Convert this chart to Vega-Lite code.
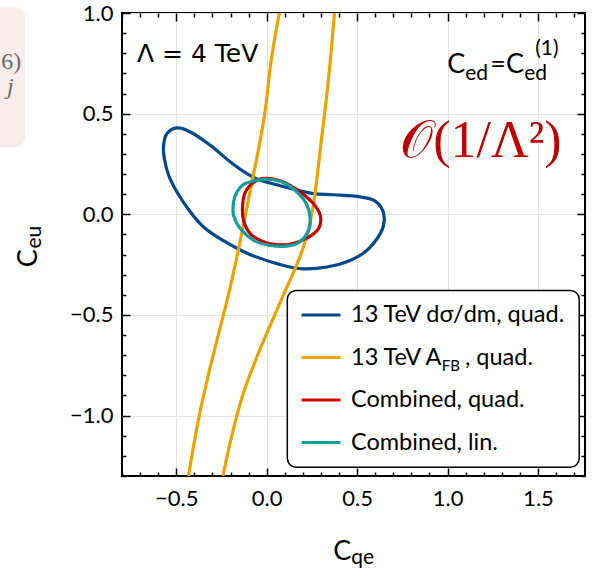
{
  "$schema": "https://vega.github.io/schema/vega-lite/v6.json",
  "width": 463,
  "height": 463,
  "autosize": {"type": "none"},
  "padding": {"left": 122, "top": 13, "right": 13, "bottom": 95},
  "background": "white",
  "config": {
    "view": {"stroke": "black", "strokeWidth": 2},
    "axis": {"domain": false, "labelFont": "Lato", "labelFontSize": 22, "labelColor": "black", "tickColor": "black", "tickWidth": 1.5, "gridColor": "#e3e3e3", "gridWidth": 1, "labelOverlap": false, "labelFlush": false},
    "legend": {
      "orient": "none", "legendX": 165, "legendY": 273, "title": null,
      "symbolType": "stroke", "symbolStrokeWidth": 3, "symbolSize": 1521,
      "labelFont": "Lato", "labelFontSize": 23.5, "labelColor": "black", "labelLimit": 400,
      "padding": 8, "symbolOffset": 5, "labelOffset": 9, "rowPadding": 9.5
    },
    "text": {"font": "Lato", "color": "black"}
  },
  "datasets": {
    "contours": [
      {"series": "13 TeV dσ/dm, quad.", "part": "a", "i": 0, "x": -0.496, "y": 0.429},
      {"series": "13 TeV dσ/dm, quad.", "part": "a", "i": 1, "x": -0.422, "y": 0.409},
      {"series": "13 TeV dσ/dm, quad.", "part": "a", "i": 2, "x": -0.312, "y": 0.343},
      {"series": "13 TeV dσ/dm, quad.", "part": "a", "i": 3, "x": -0.201, "y": 0.260},
      {"series": "13 TeV dσ/dm, quad.", "part": "a", "i": 4, "x": -0.109, "y": 0.202},
      {"series": "13 TeV dσ/dm, quad.", "part": "a", "i": 5, "x": -0.035, "y": 0.169},
      {"series": "13 TeV dσ/dm, quad.", "part": "a", "i": 6, "x": 0.075, "y": 0.142},
      {"series": "13 TeV dσ/dm, quad.", "part": "a", "i": 7, "x": 0.186, "y": 0.117},
      {"series": "13 TeV dσ/dm, quad.", "part": "a", "i": 8, "x": 0.259, "y": 0.103},
      {"series": "13 TeV dσ/dm, quad.", "part": "a", "i": 9, "x": 0.370, "y": 0.097},
      {"series": "13 TeV dσ/dm, quad.", "part": "a", "i": 10, "x": 0.516, "y": 0.087},
      {"series": "13 TeV dσ/dm, quad.", "part": "a", "i": 11, "x": 0.591, "y": 0.070},
      {"series": "13 TeV dσ/dm, quad.", "part": "a", "i": 12, "x": 0.637, "y": 0.028},
      {"series": "13 TeV dσ/dm, quad.", "part": "a", "i": 13, "x": 0.650, "y": -0.030},
      {"series": "13 TeV dσ/dm, quad.", "part": "a", "i": 14, "x": 0.628, "y": -0.096},
      {"series": "13 TeV dσ/dm, quad.", "part": "a", "i": 15, "x": 0.554, "y": -0.179},
      {"series": "13 TeV dσ/dm, quad.", "part": "a", "i": 16, "x": 0.462, "y": -0.229},
      {"series": "13 TeV dσ/dm, quad.", "part": "a", "i": 17, "x": 0.333, "y": -0.262},
      {"series": "13 TeV dσ/dm, quad.", "part": "a", "i": 18, "x": 0.186, "y": -0.270},
      {"series": "13 TeV dσ/dm, quad.", "part": "a", "i": 19, "x": 0.057, "y": -0.245},
      {"series": "13 TeV dσ/dm, quad.", "part": "a", "i": 20, "x": -0.102, "y": -0.196},
      {"series": "13 TeV dσ/dm, quad.", "part": "a", "i": 21, "x": -0.256, "y": -0.122},
      {"series": "13 TeV dσ/dm, quad.", "part": "a", "i": 22, "x": -0.349, "y": -0.063},
      {"series": "13 TeV dσ/dm, quad.", "part": "a", "i": 23, "x": -0.422, "y": 0.011},
      {"series": "13 TeV dσ/dm, quad.", "part": "a", "i": 24, "x": -0.496, "y": 0.111},
      {"series": "13 TeV dσ/dm, quad.", "part": "a", "i": 25, "x": -0.542, "y": 0.194},
      {"series": "13 TeV dσ/dm, quad.", "part": "a", "i": 26, "x": -0.566, "y": 0.277},
      {"series": "13 TeV dσ/dm, quad.", "part": "a", "i": 27, "x": -0.570, "y": 0.343},
      {"series": "13 TeV dσ/dm, quad.", "part": "a", "i": 28, "x": -0.551, "y": 0.401},

      {"series": "13 TeV AFB, quad.", "part": "left", "i": 0, "x": 0.070, "y": 1.0},
      {"series": "13 TeV AFB, quad.", "part": "left", "i": 1, "x": 0.025, "y": 0.765},
      {"series": "13 TeV AFB, quad.", "part": "left", "i": 2, "x": -0.008, "y": 0.517},
      {"series": "13 TeV AFB, quad.", "part": "left", "i": 3, "x": -0.041, "y": 0.343},
      {"series": "13 TeV AFB, quad.", "part": "left", "i": 4, "x": -0.074, "y": 0.194},
      {"series": "13 TeV AFB, quad.", "part": "left", "i": 5, "x": -0.118, "y": -0.005},
      {"series": "13 TeV AFB, quad.", "part": "left", "i": 6, "x": -0.163, "y": -0.204},
      {"series": "13 TeV AFB, quad.", "part": "left", "i": 7, "x": -0.212, "y": -0.402},
      {"series": "13 TeV AFB, quad.", "part": "left", "i": 8, "x": -0.268, "y": -0.601},
      {"series": "13 TeV AFB, quad.", "part": "left", "i": 9, "x": -0.323, "y": -0.800},
      {"series": "13 TeV AFB, quad.", "part": "left", "i": 10, "x": -0.378, "y": -1.023},
      {"series": "13 TeV AFB, quad.", "part": "left", "i": 11, "x": -0.433, "y": -1.3},
      {"series": "13 TeV AFB, quad.", "part": "right", "i": 0, "x": 0.375, "y": 1.0},
      {"series": "13 TeV AFB, quad.", "part": "right", "i": 1, "x": 0.352, "y": 0.765},
      {"series": "13 TeV AFB, quad.", "part": "right", "i": 2, "x": 0.329, "y": 0.566},
      {"series": "13 TeV AFB, quad.", "part": "right", "i": 3, "x": 0.302, "y": 0.368},
      {"series": "13 TeV AFB, quad.", "part": "right", "i": 4, "x": 0.280, "y": 0.194},
      {"series": "13 TeV AFB, quad.", "part": "right", "i": 5, "x": 0.258, "y": 0.045},
      {"series": "13 TeV AFB, quad.", "part": "right", "i": 6, "x": 0.230, "y": -0.079},
      {"series": "13 TeV AFB, quad.", "part": "right", "i": 7, "x": 0.197, "y": -0.179},
      {"series": "13 TeV AFB, quad.", "part": "right", "i": 8, "x": 0.153, "y": -0.278},
      {"series": "13 TeV AFB, quad.", "part": "right", "i": 9, "x": 0.092, "y": -0.402},
      {"series": "13 TeV AFB, quad.", "part": "right", "i": 10, "x": 0.020, "y": -0.551},
      {"series": "13 TeV AFB, quad.", "part": "right", "i": 11, "x": -0.057, "y": -0.715},
      {"series": "13 TeV AFB, quad.", "part": "right", "i": 12, "x": -0.129, "y": -0.889},
      {"series": "13 TeV AFB, quad.", "part": "right", "i": 13, "x": -0.190, "y": -1.088},
      {"series": "13 TeV AFB, quad.", "part": "right", "i": 14, "x": -0.242, "y": -1.3},

      {"series": "Combined, quad.", "part": "a", "i": 0, "x": -0.026, "y": 0.177},
      {"series": "Combined, quad.", "part": "a", "i": 1, "x": 0.066, "y": 0.169},
      {"series": "Combined, quad.", "part": "a", "i": 2, "x": 0.158, "y": 0.128},
      {"series": "Combined, quad.", "part": "a", "i": 3, "x": 0.250, "y": 0.061},
      {"series": "Combined, quad.", "part": "a", "i": 4, "x": 0.296, "y": -0.005},
      {"series": "Combined, quad.", "part": "a", "i": 5, "x": 0.287, "y": -0.071},
      {"series": "Combined, quad.", "part": "a", "i": 6, "x": 0.232, "y": -0.113},
      {"series": "Combined, quad.", "part": "a", "i": 7, "x": 0.140, "y": -0.146},
      {"series": "Combined, quad.", "part": "a", "i": 8, "x": 0.048, "y": -0.151},
      {"series": "Combined, quad.", "part": "a", "i": 9, "x": -0.026, "y": -0.134},
      {"series": "Combined, quad.", "part": "a", "i": 10, "x": -0.091, "y": -0.096},
      {"series": "Combined, quad.", "part": "a", "i": 11, "x": -0.128, "y": -0.030},
      {"series": "Combined, quad.", "part": "a", "i": 12, "x": -0.133, "y": 0.045},
      {"series": "Combined, quad.", "part": "a", "i": 13, "x": -0.118, "y": 0.111},
      {"series": "Combined, quad.", "part": "a", "i": 14, "x": -0.081, "y": 0.153},

      {"series": "Combined, lin.", "part": "a", "i": 0, "x": -0.118, "y": 0.153},
      {"series": "Combined, lin.", "part": "a", "i": 1, "x": -0.008, "y": 0.174},
      {"series": "Combined, lin.", "part": "a", "i": 2, "x": 0.085, "y": 0.160},
      {"series": "Combined, lin.", "part": "a", "i": 3, "x": 0.167, "y": 0.111},
      {"series": "Combined, lin.", "part": "a", "i": 4, "x": 0.223, "y": 0.045},
      {"series": "Combined, lin.", "part": "a", "i": 5, "x": 0.241, "y": -0.038},
      {"series": "Combined, lin.", "part": "a", "i": 6, "x": 0.223, "y": -0.096},
      {"series": "Combined, lin.", "part": "a", "i": 7, "x": 0.167, "y": -0.146},
      {"series": "Combined, lin.", "part": "a", "i": 8, "x": 0.093, "y": -0.159},
      {"series": "Combined, lin.", "part": "a", "i": 9, "x": 0.011, "y": -0.154},
      {"series": "Combined, lin.", "part": "a", "i": 10, "x": -0.072, "y": -0.129},
      {"series": "Combined, lin.", "part": "a", "i": 11, "x": -0.146, "y": -0.071},
      {"series": "Combined, lin.", "part": "a", "i": 12, "x": -0.183, "y": -0.005},
      {"series": "Combined, lin.", "part": "a", "i": 13, "x": -0.183, "y": 0.061},
      {"series": "Combined, lin.", "part": "a", "i": 14, "x": -0.164, "y": 0.111}
    ],
    "anchor": [{"x": 0, "y": 0}]
  },
  "layer": [
    {
      "encoding": {
        "x": {"field": "x", "type": "quantitative", "title": null, "scale": {"domain": [-0.8, 1.76], "nice": false, "zero": false}},
        "y": {"field": "y", "type": "quantitative", "title": null, "scale": {"domain": [-1.3, 1.0], "nice": false, "zero": false}}
      },
      "layer": [
        {
          "data": {"name": "contours"},
          "transform": [{"filter": "datum.series === '13 TeV dσ/dm, quad.'"}],
          "mark": {"type": "line", "interpolate": "cardinal-closed", "strokeWidth": 3.2, "clip": true},
          "encoding": {
            "x": {"field": "x", "type": "quantitative", "title": null,
              "axis": {"orient": "bottom", "values": [-0.5, 0, 0.5, 1.0, 1.5], "format": ".1f", "tickSize": -8, "grid": true, "labelPadding": 20}},
            "y": {"field": "y", "type": "quantitative", "title": null,
              "axis": {"orient": "left", "values": [-1.0, -0.5, 0, 0.5, 1.0], "format": ".1f", "tickSize": -8, "grid": true, "labelPadding": 17}},
            "order": {"field": "i", "type": "quantitative"},
            "detail": {"field": "part", "type": "nominal"},
            "color": {"field": "series", "type": "nominal",
              "scale": {"domain": ["13 TeV dσ/dm, quad.", "13 TeV AFB, quad.", "Combined, quad.", "Combined, lin."], "range": ["#00478c", "#eba300", "#c80000", "#139e9c"]},
              "legend": {"labelExpr": "datum.label === '13 TeV AFB, quad.' ? '13 TeV A\u2002\u2002, quad.' : datum.label"}}
          }
        },
        {
          "data": {"name": "contours"},
          "transform": [{"filter": "datum.series === '13 TeV AFB, quad.'"}],
          "mark": {"type": "line", "interpolate": "cardinal", "strokeWidth": 3.2, "clip": true},
          "encoding": {
            "order": {"field": "i", "type": "quantitative"},
            "detail": {"field": "part", "type": "nominal"},
            "color": {"field": "series", "type": "nominal"}
          }
        },
        {
          "data": {"name": "contours"},
          "transform": [{"filter": "datum.series === 'Combined, quad.'"}],
          "mark": {"type": "line", "interpolate": "cardinal-closed", "strokeWidth": 3.2, "clip": true},
          "encoding": {
            "order": {"field": "i", "type": "quantitative"},
            "detail": {"field": "part", "type": "nominal"},
            "color": {"field": "series", "type": "nominal"}
          }
        },
        {
          "data": {"name": "contours"},
          "transform": [{"filter": "datum.series === 'Combined, lin.'"}],
          "mark": {"type": "line", "interpolate": "cardinal-closed", "strokeWidth": 3.2, "clip": true},
          "encoding": {
            "order": {"field": "i", "type": "quantitative"},
            "detail": {"field": "part", "type": "nominal"},
            "color": {"field": "series", "type": "nominal"}
          }
        },
        {
          "data": {"values": [{"x": 0.114, "x2": 1.728, "y": -0.378, "y2": -1.257}]},
          "mark": {"type": "rect", "fill": "white", "stroke": "black", "strokeWidth": 1.5, "cornerRadius": 9, "clip": false},
          "encoding": {"x2": {"field": "x2"}, "y2": {"field": "y2"}}
        },
        {
          "data": {"values": [{"x": -1.6, "x2": -1.337, "y": 1.028, "y2": 0.333}]},
          "mark": {"type": "rect", "fill": "#f8eded", "cornerRadius": 10, "clip": false},
          "encoding": {"x2": {"field": "x2"}, "y2": {"field": "y2"}}
        },
        {
          "data": {"values": [{"label": "6)", "x": -1.357, "y": 0.720}]},
          "mark": {"type": "text", "font": "Liberation Serif", "fontSize": 24, "align": "right", "baseline": "alphabetic", "color": "#6b6b6b"},
          "encoding": {"text": {"field": "label"}}
        },
        {
          "data": {"values": [{"label": "j", "x": -1.417, "y": 0.596}]},
          "mark": {"type": "text", "font": "Liberation Serif", "fontSize": 24, "fontStyle": "italic", "align": "center", "baseline": "alphabetic", "color": "#6b6b6b"},
          "encoding": {"text": {"field": "label"}}
        },
        {
          "data": {"values": [{"label": "Λ = 4 TeV", "x": -0.717, "y": 0.755}]},
          "mark": {"type": "text", "font": "DejaVu Sans", "fontSize": 25, "align": "left", "baseline": "alphabetic"},
          "encoding": {"text": {"field": "label"}}
        },
        {
          "data": {"values": [{"label": "C", "x": 0.998, "y": 0.700}, {"label": "=C", "x": 1.236, "y": 0.700}, {"label": "C", "x": 0.368, "y": -1.719}]},
          "mark": {"type": "text", "fontSize": 27, "align": "left", "baseline": "alphabetic"},
          "encoding": {"text": {"field": "label"}}
        },
        {
          "data": {"values": [{"label": "ed", "x": 1.098, "y": 0.666}, {"label": "ed", "x": 1.424, "y": 0.666}, {"label": "(1)", "x": 1.485, "y": 0.790}, {"label": "qe", "x": 0.468, "y": -1.739}]},
          "mark": {"type": "text", "fontSize": 21, "align": "left", "baseline": "alphabetic"},
          "encoding": {"text": {"field": "label"}}
        },
        {
          "data": {"values": [{"label": "C", "x": -1.268, "y": -0.263}]},
          "mark": {"type": "text", "fontSize": 27, "angle": 270, "align": "left", "baseline": "alphabetic"},
          "encoding": {"text": {"field": "label"}}
        },
        {
          "data": {"values": [{"label": "eu", "x": -1.246, "y": -0.170}]},
          "mark": {"type": "text", "fontSize": 21, "angle": 270, "align": "left", "baseline": "alphabetic"},
          "encoding": {"text": {"field": "label"}}
        },
        {
          "data": {"values": [{"label": "𝒪(1/Λ²)", "x": 0.738, "y": 0.283}]},
          "mark": {"type": "text", "font": "Liberation Serif", "fontSize": 52, "align": "left", "baseline": "alphabetic", "color": "#c00000"},
          "encoding": {"text": {"field": "label"}}
        },
        {
          "data": {"values": [{"label": "FB", "x": 0.968, "y": -0.778}]},
          "mark": {"type": "text", "fontSize": 15, "align": "left", "baseline": "alphabetic"},
          "encoding": {"text": {"field": "label"}}
        }
      ]
    },
    {
      "data": {"name": "anchor"},
      "mark": {"type": "point", "opacity": 0},
      "encoding": {
        "x": {"field": "x", "type": "quantitative", "title": null, "scale": {"domain": [-0.8, 1.76], "nice": false, "zero": false},
          "axis": {"orient": "bottom", "labels": false, "grid": false, "tickSize": -4,
            "values": [-0.8,-0.7,-0.6,-0.4,-0.3,-0.2,-0.1,0.1,0.2,0.3,0.4,0.6,0.7,0.8,0.9,1.1,1.2,1.3,1.4,1.6,1.7]}},
        "y": {"field": "y", "type": "quantitative", "title": null, "scale": {"domain": [-1.3, 1.0], "nice": false, "zero": false},
          "axis": {"orient": "left", "labels": false, "grid": false, "tickSize": -4,
            "values": [-1.3,-1.2,-1.1,-0.9,-0.8,-0.7,-0.6,-0.4,-0.3,-0.2,-0.1,0.1,0.2,0.3,0.4,0.6,0.7,0.8,0.9]}}
      }
    },
    {
      "data": {"name": "anchor"},
      "mark": {"type": "point", "opacity": 0},
      "encoding": {
        "x": {"field": "x", "type": "quantitative", "title": null, "scale": {"domain": [-0.8, 1.76], "nice": false, "zero": false},
          "axis": {"orient": "top", "labels": false, "grid": false, "tickSize": -8, "values": [-0.5, 0, 0.5, 1.0, 1.5]}},
        "y": {"field": "y", "type": "quantitative", "title": null, "scale": {"domain": [-1.3, 1.0], "nice": false, "zero": false},
          "axis": {"orient": "right", "labels": false, "grid": false, "tickSize": -8, "values": [-1.0, -0.5, 0, 0.5, 1.0]}}
      }
    },
    {
      "data": {"name": "anchor"},
      "mark": {"type": "point", "opacity": 0},
      "encoding": {
        "x": {"field": "x", "type": "quantitative", "title": null, "scale": {"domain": [-0.8, 1.76], "nice": false, "zero": false},
          "axis": {"orient": "top", "labels": false, "grid": false, "tickSize": -4,
            "values": [-0.8,-0.7,-0.6,-0.4,-0.3,-0.2,-0.1,0.1,0.2,0.3,0.4,0.6,0.7,0.8,0.9,1.1,1.2,1.3,1.4,1.6,1.7]}},
        "y": {"field": "y", "type": "quantitative", "title": null, "scale": {"domain": [-1.3, 1.0], "nice": false, "zero": false},
          "axis": {"orient": "right", "labels": false, "grid": false, "tickSize": -4,
            "values": [-1.3,-1.2,-1.1,-0.9,-0.8,-0.7,-0.6,-0.4,-0.3,-0.2,-0.1,0.1,0.2,0.3,0.4,0.6,0.7,0.8,0.9]}}
      }
    }
  ],
  "resolve": {"axis": {"x": "independent", "y": "independent"}}
}
